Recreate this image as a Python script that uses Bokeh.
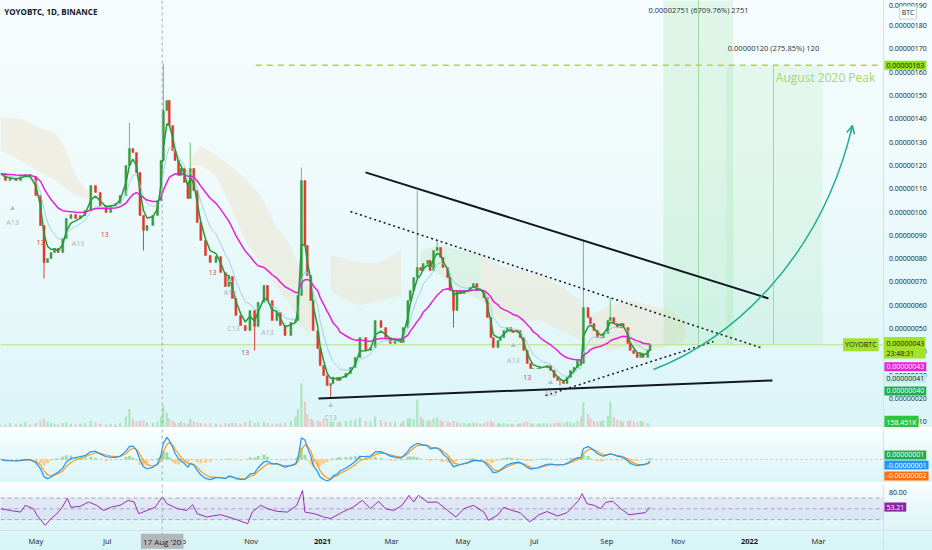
import numpy as np
import pandas as pd
from bokeh.plotting import figure
from bokeh.layouts import column
from bokeh.models import (Range1d, Span, Label, BoxAnnotation, ColumnDataSource, Arrow, OpenHead)
from bokeh.embed import file_html
from bokeh.resources import INLINE
from bokeh.core.properties import value

FONT = "Open Sans"

# ---------------- data (days relative to 2021-01-01, prices in satoshi = 1e-8 BTC) ----------------
day_offsets = [
    -275, -271, -267, -262, -258, -254, -250, -245, -241, -238,
    -235, -232, -229, -226, -222, -219, -215, -211, -207, -203,
    -198, -194, -190, -185, -181, -177, -173, -168, -165, -162,
    -159, -156, -153, -150, -145, -141, -138, -136, -133, -131,
    -128, -126, -123, -121, -118, -115, -113, -110, -107, -104,
    -100, -96, -91, -87, -83, -80, -77, -74, -70, -66,
    -62, -58, -55, -50, -47, -43, -39, -36, -32, -27,
    -23, -21, -18, -15, -13, -10, -8, -4, -2, 1,
    4, 7, 9, 13, 15, 20, 24, 28, 32, 37,
    41, 45, 50, 54, 58, 62, 67, 69, 73, 75,
    78, 81, 84, 86, 90, 92, 95, 98, 101, 103,
    107, 109, 112, 115, 118, 121, 124, 126, 129, 132,
    135, 138, 141, 144, 146, 150, 152, 155, 158, 161,
    163, 167, 169, 172, 175, 178, 180, 184, 186, 189,
    192, 195, 198, 201, 203, 206, 209, 212, 215, 218,
    221, 223, 227, 229, 232, 235, 238, 240, 244, 246,
    249, 252, 255, 257, 261, 263, 266, 269, 272, 274,
    278, 280,
]
closes = [
    116.5, 113.5, 114.4, 113.5, 115.2, 116.1, 115.2, 107.1, 94.2, 78.3,
    80.0, 82.6, 84.3, 82.6, 88.6, 97.2, 98.9, 97.2, 98.5, 100.6,
    111.4, 108.4, 102.8, 99.8, 102.8, 103.6, 107.1, 120.0, 127.3, 125.5,
    117.0, 98.5, 92.1, 94.2, 98.5, 104.9, 122.1, 143.6, 147.9, 137.1,
    126.4, 122.1, 115.7, 118.7, 112.7, 105.8, 118.7, 109.2, 95.5, 87.8,
    81.3, 78.3, 80.9, 74.0, 68.0, 72.3, 62.9, 55.6, 51.3, 49.1,
    57.7, 50.9, 61.2, 68.5, 62.0, 53.4, 56.9, 51.3, 47.0, 52.6,
    53.4, 64.2, 113.5, 85.6, 72.7, 62.0, 49.1, 41.4, 34.1, 29.8,
    25.5, 26.4, 29.0, 27.7, 29.0, 30.7, 33.3, 37.6, 46.1, 40.6,
    41.8, 53.4, 50.4, 46.1, 43.6, 44.8, 44.0, 50.4, 62.0, 66.3,
    71.9, 76.2, 74.9, 77.9, 79.2, 74.9, 83.5, 84.8, 80.5, 76.2,
    71.9, 66.3, 57.7, 66.3, 65.0, 66.3, 66.3, 67.6, 69.3, 66.3,
    66.3, 63.3, 54.7, 46.1, 41.8, 44.8, 46.1, 49.1, 50.4, 49.1,
    48.3, 49.1, 46.1, 40.6, 35.0, 32.8, 32.8, 32.8, 33.3, 33.3,
    34.1, 32.0, 29.0, 27.7, 27.7, 26.4, 29.0, 32.0, 33.3, 36.3,
    35.0, 59.0, 54.7, 52.1, 49.1, 46.1, 46.1, 47.9, 53.4, 54.7,
    52.1, 50.4, 52.1, 50.4, 43.6, 40.6, 39.3, 37.6, 39.3, 37.6,
    40.6, 43.0,
]
volumes_k = [
    500, 400, 600, 450, 500, 700, 400, 600, 900, 1200,
    800, 600, 500, 400, 600, 700, 500, 400, 500, 600,
    900, 700, 500, 400, 500, 400, 600, 1500, 2500, 1200,
    800, 900, 1000, 700, 600, 800, 1500, 3000, 2000, 1200,
    900, 700, 600, 800, 600, 500, 1200, 800, 700, 600,
    500, 600, 500, 400, 600, 500, 700, 600, 500, 700,
    900, 600, 700, 800, 600, 500, 500, 600, 700, 900,
    1500, 2500, 6000, 3500, 1800, 1200, 1000, 900, 800, 1200,
    1000, 900, 800, 700, 800, 900, 1000, 1100, 1300, 900,
    800, 1500, 1000, 800, 700, 800, 600, 900, 1200, 1300,
    1200, 3800, 1500, 1100, 1000, 900, 1200, 1400, 1000, 800,
    800, 700, 900, 700, 600, 600, 500, 600, 700, 600,
    500, 600, 800, 900, 700, 600, 500, 600, 500, 500,
    500, 500, 600, 700, 800, 600, 500, 500, 500, 600,
    600, 500, 600, 700, 600, 600, 800, 700, 600, 900,
    1500, 3400, 1800, 1200, 900, 800, 900, 1000, 1600, 3500,
    1400, 1000, 900, 800, 900, 1000, 800, 700, 900, 800,
    600, 158,
]
spike_high_days = [-165, -136, -113, -18, 81, 98, 223, 246]
spike_highs = [138.4, 163.7, 129.8, 119.1, 109.2, 87.8, 87.8, 63.3]
spike_low_days = [-238, -153, -58, 7, 112, 203]
spike_lows = [71.5, 83.5, 40.6, 20.4, 50.4, 25.5]

# RSI
rsi_days = [
    -275, -267, -258, -254, -247, -244, -237, -232, -227, -223,
    -218, -215, -207, -200, -193, -187, -181, -173, -166, -161,
    -157, -150, -143, -137, -133, -124, -116, -111, -107, -99,
    -87, -76, -64, -60, -53, -47, -39, -30, -22, -17,
    -15, -7, 1,
    7, 18, 26, 34, 41, 48, 54, 61, 68, 74,
    78, 82, 90, 98, 107, 114, 121, 129, 138, 142,
    150, 155, 162, 169, 177, 185, 192, 201, 209, 215,
    219, 222, 226, 232, 238, 242, 248, 255, 262, 269,
    276, 280,
]
rsi_values = [
    50.4, 47.0, 44.0, 56.5, 50.0, 38.0, 19.5, 32.0, 41.0, 51.0,
    69.5, 53.0, 54.6, 62.6, 56.5, 47.0, 53.0, 56.5, 65.7, 62.6,
    41.0, 47.0, 53.0, 72.0, 59.6, 50.4, 47.0, 57.7, 41.0, 35.0,
    39.2, 32.0, 22.6, 44.0, 56.5, 50.4, 45.4, 44.0, 56.5, 84.0,
    44.0, 41.0, 35.0,
    32.0, 45.0, 53.0, 65.7, 50.4, 64.0, 50.0, 47.0, 56.5, 75.0,
    62.6, 75.0, 62.0, 62.6, 47.0, 35.0, 50.4, 56.5, 44.0, 28.7,
    39.0, 53.0, 47.0, 43.0, 25.6, 39.0, 45.0, 36.7, 43.0, 56.5,
    65.7, 78.0, 59.6, 56.5, 50.4, 62.0, 64.0, 50.4, 39.0, 41.0,
    43.0, 53.2,
]

# Ichimoku cloud pieces (days, upper, lower)
cloud_beige = [
    ([-275, -258, -241, -228, -219, -211, -198],
     [140.6, 140.1, 135.8, 133.7, 126.4, 115.7, 107.1],
     [126.4, 122.1, 117.0, 113.5, 110.1, 107.1, 104.9]),
    ([-113, -104, -91, -79, -66, -53, -40, -27, -19, -10],
     [122.1, 128.5, 124.2, 120.0, 114.4, 107.1, 94.2, 85.6, 74.9, 66.3],
     [120.0, 120.0, 115.7, 102.8, 87.8, 78.3, 68.5, 59.9, 51.3, 47.0]),
    ([7, 20, 32, 50, 67],
     [81.3, 80.0, 78.3, 78.3, 83.5],
     [66.3, 62.0, 59.9, 62.0, 64.2]),
    ([135, 152, 169, 186, 203, 221],
     [81.3, 77.0, 74.9, 72.7, 68.5, 62.0],
     [62.0, 53.4, 53.4, 53.4, 49.1, 44.8]),
    ([229, 246, 263, 280, 297, 310],
     [55.6, 59.9, 62.0, 59.9, 57.7, 53.4],
     [42.7, 40.6, 42.7, 40.6, 42.7, 44.8]),
]
cloud_green = [
    ([84, 101, 118, 135],
     [83.5, 85.6, 83.5, 81.3],
     [78.3, 72.7, 66.3, 62.0]),
]

month_days = [-245, -184, -122, -61, 0, 59, 120, 181, 243, 304, 365, 424]
month_labels = ["May", "Jul", "Sep", "Nov", "2021", "Mar", "May", "Jul", "Sep", "Nov", "2022", "Mar"]
price_ticks = list(range(10, 200, 10))
price_tick_labels = [f"{v / 1e8:.8f}" for v in price_ticks]

peak_price = 163.0
last_price = 43.0
crosshair_day = -137

td_red = [(-241, 86.9), (-186, 90.3), (-94, 74.0), (-66, 39.7), (175, 29.0)]
td_gray = [(-265, 95.5, "A13"), (-209, 86.5, "A13"), (-79, 65.5, "A13"), (-76, 50.0, "C13"),
           (-47, 48.3, "A13"), (163, 36.3, "A13"), (195, 22.0, "A13"), (7, 11.8, "C13")]
td_tri = [(-265, 101.5), (-79, 70.6), (7, 17.0), (163, 42.7), (195, 26.8)]

# ---------------- derived series ----------------
s = pd.Series(closes, dtype=float)
opens = [closes[0]] + closes[:-1]
ema_green = s.ewm(span=3, adjust=False).mean()
ema_blue = s.ewm(span=7, adjust=False).mean()
ema_mag = s.ewm(span=22, adjust=False).mean()
macd = s.ewm(span=4, adjust=False).mean() - s.ewm(span=9, adjust=False).mean()
signal = macd.ewm(span=3, adjust=False).mean()
hist = macd - signal

up = [c >= o for o, c in zip(opens, closes)]
src = ColumnDataSource(dict(
    x=day_offsets,
    top=[max(o, c) for o, c in zip(opens, closes)],
    bot=[min(o, c) for o, c in zip(opens, closes)],
    color=["#3a9a3e" if u else "#e0372d" for u in up],
    vcolor=["#7fd98a" if u else "#f3a3a0" for u in up],
    vol=volumes_k,
    g=ema_green, b=ema_blue, m=ema_mag,
    macd=macd, sig=signal, hist=hist,
    hcolor=["#8fd694" if h >= 0 else "#ffc56e" for h in hist],
))

AX = 479.5          # day where the price scale column begins
XR = 515.4          # right edge of the value tags
xr = Range1d(-275.2, 521.4)
W = 932
TXT = "#131722"
SEP = "#d3e2e5"
FS = "7px"
YTOP = 190.8

def base_fig(h, yr, top_border, grad):
    f = figure(width=W, height=h, x_range=xr, y_range=yr, output_backend="svg",
               toolbar_location=None, y_axis_location=None, x_axis_location=None,
               min_border_left=0, min_border_right=0, min_border_top=top_border,
               min_border_bottom=0, background_fill_alpha=0, border_fill_alpha=0,
               outline_line_color=None, styles={"background": grad})
    f.grid.visible = False
    f.add_layout(Span(location=AX, dimension="height", line_color=SEP, line_width=1))
    f.add_layout(Span(location=crosshair_day, dimension="height", line_color="#a5abb0",
                      line_width=1, line_dash="3 3"))
    return f

def tag(f, x, y, text, bg, fg, align="left", size=FS, border=None):
    f.add_layout(Label(x=x, y=y, text=text, text_font=FONT,
                       text_font_size=size, text_color=fg, text_align=align,
                       text_baseline="middle", background_fill_color=bg,
                       background_fill_alpha=1, padding=2,
                       border_line_color=border, border_line_alpha=1 if border else 0))

TAGX = 480.3
TICKX = 484.2

# ---------------- main pane ----------------
p = base_fig(427, Range1d(7.5, YTOP), 0,
             "linear-gradient(180deg, #f6fcfd 0%, #eefafb 45%, #dbf5f8 100%)")
p.extra_y_ranges = {"vol": Range1d(0, 58000)}

for d, t, b in cloud_beige:
    p.patch(d + d[::-1], t + b[::-1], fill_color="#f0dcbf", fill_alpha=0.38, line_color=None)
for d, t, b in cloud_green:
    p.patch(d + d[::-1], t + b[::-1], fill_color="#cdebd2", fill_alpha=0.5, line_color=None)

p.vbar(x="x", width=1.8, top="vol", bottom=0, source=src, fill_color="vcolor",
       line_color=None, fill_alpha=0.55, y_range_name="vol")

# long-position projection boxes
p.quad(left=291.5, right=351.0, bottom=last_price, top=200, fill_color="#5fd36a",
       fill_alpha=0.14, line_color=None)
p.quad(left=345.0, right=427.4, bottom=last_price, top=peak_price, fill_color="#5fd36a",
       fill_alpha=0.10, line_color=None)
p.segment(x0=[321.4, 385.5], y0=[last_price, last_price], x1=[321.4, 385.5], y1=[200, peak_price],
          line_color="#9fd9a3", line_width=1)

p.segment(x0=-57, y0=peak_price, x1=AX, y1=peak_price, line_color="#b8d62c",
          line_width=1.5, line_dash="6 5")
p.segment(x0=-275.2, y0=last_price, x1=AX, y1=last_price, line_color="#b9e47a", line_width=1)

# wicks and candles
hi_idx = [day_offsets.index(d) for d in spike_high_days]
lo_idx = [day_offsets.index(d) for d in spike_low_days]
p.segment(x0=spike_high_days, x1=spike_high_days, y1=spike_highs,
          y0=[max(opens[i], closes[i]) for i in hi_idx], line_color="#6fbf73", line_width=1)
p.segment(x0=spike_low_days, x1=spike_low_days, y1=spike_lows,
          y0=[min(opens[i], closes[i]) for i in lo_idx], line_color="#d9443a", line_width=1)
p.vbar(x="x", width=1.7, top="top", bottom="bot", source=src, fill_color="color",
       line_color="color", line_width=0.5)

p.line("x", "b", source=src, line_color="#9fd3e6", line_width=1)
p.line("x", "m", source=src, line_color="#e620d8", line_width=1.5)
p.line("x", "g", source=src, line_color="#1f9d3a", line_width=1.5)

# drawings
p.segment(x0=36.8, y0=117.0, x1=381.2, y1=62.9, line_color=TXT, line_width=2)
p.segment(x0=-3.4, y0=20.0, x1=384.6, y1=27.7, line_color=TXT, line_width=2)
p.segment(x0=23.9, y0=100.2, x1=376.9, y1=41.4, line_color=TXT, line_width=1.5,
          line_dash="2 3")
p.segment(x0=190.6, y0=21.2, x1=334.2, y1=44.4, line_color=TXT, line_width=1.5,
          line_dash="2 3")
p.bezier(x0=282.9, y0=32.4, x1=453.0, y1=137.1, cx0=348.7, cy0=44.8, cx1=425.6, cy1=79.2,
         line_color="#22ad8f", line_width=1.5)
p.add_layout(Arrow(end=OpenHead(size=8, line_color="#22ad8f", line_width=1.5),
                   x_start=451.6, y_start=134.2, x_end=453.0, y_end=137.1,
                   line_color="#22ad8f", line_width=1.5))

# TD sequential marks
p.text(x=[a for a, b in td_red], y=[b for a, b in td_red], text=["13"] * len(td_red),
       text_font=value(FONT), text_font_size="7px", text_color="#e53935",
       text_align="center", text_baseline="middle")
p.text(x=[a for a, b, c in td_gray], y=[b for a, b, c in td_gray], text=[c for a, b, c in td_gray],
       text_font=value(FONT), text_font_size="7px", text_color="#a9b4b8",
       text_align="center", text_baseline="middle")
p.scatter(x=[a for a, b in td_tri], y=[b for a, b in td_tri], marker="triangle", size=5,
          fill_color="#b7c0c4", line_color=None)

# price scale (the topmost label kept just inside the pane)
p.text(x=[TICKX] * len(price_ticks), y=[min(v, YTOP - 2.0) for v in price_ticks],
       text=price_tick_labels, text_font=value(FONT), text_font_size=FS, text_color=TXT,
       text_align="left", text_baseline="middle")

p.add_layout(Label(x=-272, y=186.1, text="YOYOBTC, 1D, BINANCE", text_font=FONT,
                   text_font_size="8px", text_font_style="bold", text_color=TXT,
                   text_baseline="middle"))
p.add_layout(Label(x=472.5, y=157.8, text="August 2020 Peak", text_font=FONT,
                   text_font_size="12px", text_color="#a3d95f", text_align="right",
                   text_baseline="middle"))
p.add_layout(Label(x=321.4, y=186.9, text="0.00002751 (6709.76%) 2751", text_font=FONT,
                   text_font_size="7.5px", text_color="#2a2e39", text_align="center",
                   text_baseline="middle"))
p.add_layout(Label(x=385.5, y=170.2, text="0.00000120 (275.85%) 120", text_font=FONT,
                   text_font_size="7.5px", text_color="#2a2e39", text_align="center",
                   text_baseline="middle"))

tag(p, 475.3, last_price, "YOYOBTC", "#a3e22a", "#1a1a1a", align="right")
tag(p, TAGX, peak_price, "0.00000163", "#8fe01c", "#1a1a1a")
# two-line last-price tag with countdown
p.quad(left=AX + 0.4, right=XR, bottom=37.1, top=46.3, fill_color="#a3e22a", line_color=None)
p.text(x=[TAGX + 1.7] * 2, y=[43.7, 39.4], text=["0.00000043", "23:48:31"],
       text_font=value(FONT), text_font_size=FS, text_color="#1a1a1a",
       text_align="left", text_baseline="middle")
tag(p, TAGX, 33.6, "0.00000043", "#ec20d6", "#ffffff")
tag(p, TAGX, 28.4, "0.00000041", "#c3eef2", "#1a1a1a")
tag(p, TAGX, 23.2, "0.00000040", "#20ad4b", "#ffffff")
tag(p, TAGX, 9.8, "158.451K", "#2fc43c", "#ffffff")
tag(p, 500.5, 185.6, "BTC", "#f7fcfd", "#2a2e39", align="center", border="#c9d3d6")

# ---------------- MACD pane ----------------
ZF = 0.434   # share of the pane below the zero line
mscale = max(float(max(macd.max(), signal.max(), hist.max())) / (1 - ZF),
             -float(min(macd.min(), signal.min(), hist.min())) / ZF) * 1.08
mlo, mhi = -ZF * mscale, (1 - ZF) * mscale
pm = base_fig(55, Range1d(mlo, mhi), 2,
              "linear-gradient(180deg, #ffffff 0%, #ffffff 4%, #f5fcfd 12%, #daf5f8 100%)")
pm.segment(x0=-275.2, y0=0, x1=AX, y1=0, line_color="#9aa3a8", line_width=1,
           line_dash="2 3", line_alpha=0.6)
pm.vbar(x="x", width=2.4, top="hist", bottom=0, source=src, fill_color="hcolor",
        line_color=None, fill_alpha=0.85)
pm.line("x", "sig", source=src, line_color="#ff9a1f", line_width=1.2)
pm.line("x", "macd", source=src, line_color="#2196f3", line_width=1.2)
span_m = mhi - mlo
tag(pm, TAGX, mlo + 0.52 * span_m, "0.00000001", "#20ad4b", "#ffffff")
tag(pm, TAGX, mlo + 0.33 * span_m, "-0.00000001", "#2196f3", "#ffffff")
tag(pm, TAGX, mlo + 0.125 * span_m, "-0.00000002", "#ff6d0a", "#ffffff")

# ---------------- RSI pane (with the time scale strip at its foot) ----------------
pr = base_fig(68, Range1d(-27, 95), 2,
              "linear-gradient(180deg, #ffffff 0%, #ffffff 3%, #f4fbfc 10%, #dff6f8 62%, #d7f4f7 100%)")
pr.add_layout(BoxAnnotation(left=-275.2, right=AX, bottom=30, top=70, fill_color="#7e57c2",
                            fill_alpha=0.1, line_color=None))
pr.segment(x0=[-275.2] * 3, x1=[AX] * 3, y0=[70, 30, 50], y1=[70, 30, 50],
           line_color="#a58fbf", line_width=1, line_dash="4 3", line_alpha=0.8)
pr.line(rsi_days, rsi_values, line_color="#9c27b0", line_width=1)
pr.add_layout(Span(location=10, dimension="width", line_color=SEP, line_width=1))
pr.text(x=[TICKX], y=[80], text=["80.00"], text_font=value(FONT), text_font_size=FS,
        text_color=TXT, text_align="left", text_baseline="middle")
pr.text(x=month_days, y=[-10] * len(month_days), text=month_labels,
        text_font=value(FONT), text_font_size="7.5px", text_color=TXT,
        text_font_style=["bold" if m.isdigit() else "normal" for m in month_labels],
        text_align="center", text_baseline="middle")
tag(pr, TAGX, rsi_values[-1], "53.21", "#8e24aa", "#ffffff")
tag(pr, crosshair_day, -10, "17 Aug '20", "#b4b6b9", "#1e222d", align="center", size="8px")

layout = column(p, pm, pr, spacing=0)
open("out.html", "w").write(file_html(layout, INLINE))
